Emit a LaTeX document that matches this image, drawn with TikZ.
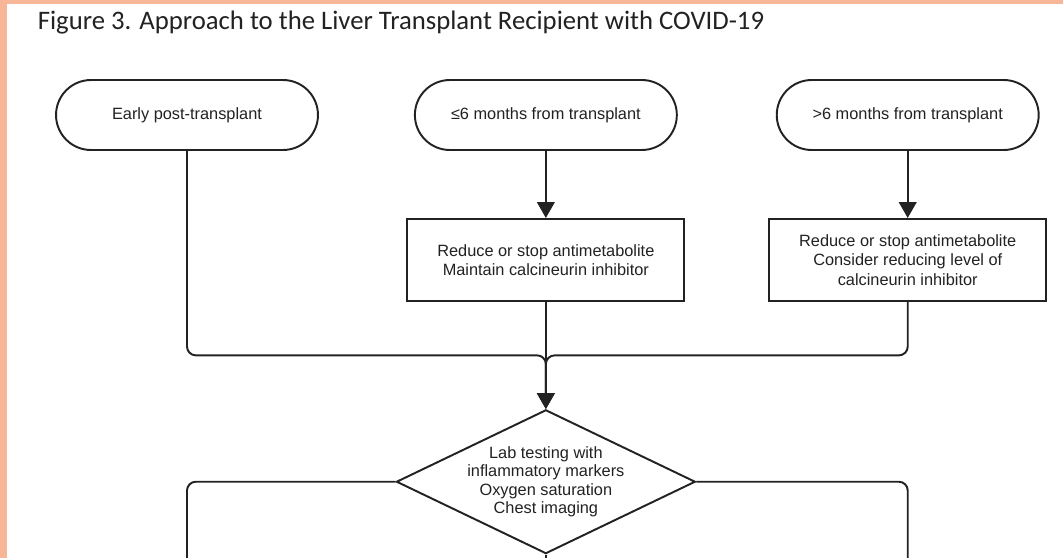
\documentclass[tikz,border=0pt]{standalone}
\usepackage{fontspec}
\setmainfont{Liberation Sans}
\newfontfamily\titlefont{Carlito}
\usetikzlibrary{shapes.geometric,arrows.meta,positioning}
\definecolor{framesalmon}{RGB}{248,182,152}
\definecolor{inkgrey}{RGB}{34,34,34}

\begin{document}
\begin{tikzpicture}[x=0.02cm, y=-0.02cm, >={Triangle[width=10pt,length=9pt]}, line width=1.1pt, color=inkgrey]
  \tikzstyle{term} = [rectangle, draw, rounded corners=0.7cm, minimum width=5.24cm, minimum height=1.4cm, font=\fontsize{9.3}{11}\selectfont]
  \tikzstyle{box} = [rectangle, draw, minimum width=5.54cm, minimum height=1.64cm, align=center, font=\fontsize{9.3}{11}\selectfont]
  \tikzstyle{decision} = [diamond, draw, minimum width=5.98cm, minimum height=2.7cm, inner sep=-12pt, align=center, font=\fontsize{9.3}{10.6}\selectfont]

  % page and frame
  \useasboundingbox (0,0) rectangle (1063,558);
  \fill[white] (0,0) rectangle (1063,558);
  \fill[framesalmon] (0,0) rectangle (1063,4);
  \fill[framesalmon] (0,0) rectangle (7,558);

  \node[anchor=base west, font=\titlefont\fontsize{15.2}{17}\selectfont] (title) at (31,29) {Figure 3. Approach to the Liver Transplant Recipient with COVID-19};

  \node[term] (early) at (187,115) {Early post-transplant};
  \node[term] (within6) [right=1.9cm of early] {≤6 months from transplant};
  \node[term] (after6) [right=1.96cm of within6] {>6 months from transplant};
  \node[box] (reduce) [below=1.34cm of within6] {Reduce or stop antimetabolite\\Maintain calcineurin inhibitor};
  \node[box] (consider) [below=1.34cm of after6] {Reduce or stop antimetabolite\\Consider reducing level of\\calcineurin inhibitor};
  \node[decision] (labs) [below=2.14cm of reduce] {Lab testing with\\inflammatory markers\\Oxygen saturation\\Chest imaging};

  \coordinate[below=1.07cm of reduce] (merge);
  \coordinate (leftend) at (early.south |- 0,558);
  \coordinate (rightend) at (after6.south |- 0,558);
  \coordinate (downend) at (labs.south |- 0,558);

  \draw[->] (within6) -- (reduce);
  \draw[->] (after6) -- (consider);
  \draw[->, rounded corners=5pt] (early) |- (merge) -- (labs);
  \draw[->, rounded corners=5pt] (consider) |- (merge) -- (labs);
  \draw[->] (reduce) -- (labs);
  \draw[rounded corners=5pt] (labs.west) -| (leftend);
  \draw[rounded corners=5pt] (labs.east) -| (rightend);
  \draw (labs.south) -- (downend);
\end{tikzpicture}
\end{document}
